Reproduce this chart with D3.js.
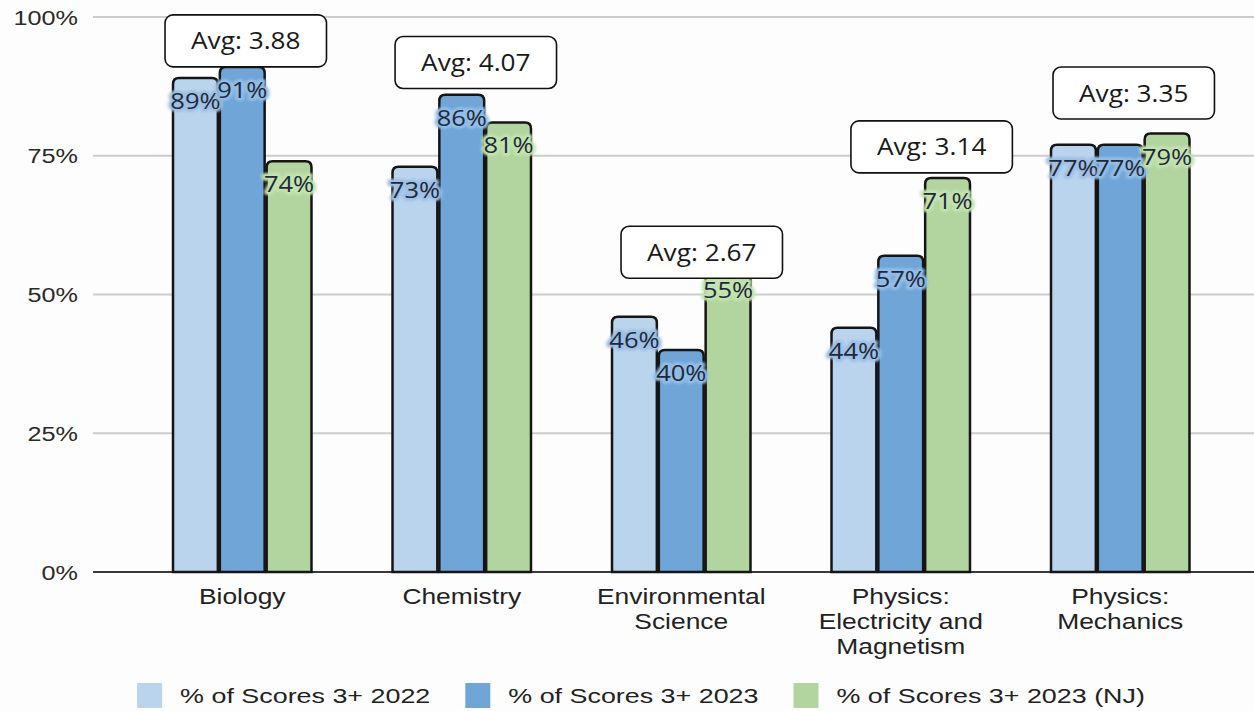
<!DOCTYPE html>
<html>
<head>
<meta charset="utf-8">
<script src="https://cdn.jsdelivr.net/npm/d3@7/dist/d3.min.js"></script>
<style>
  html, body { margin: 0; padding: 0; background: #ffffff; }
  svg { display: block; }
</style>
</head>
<body>
<svg id="chart" width="1254" height="711"></svg>
<script>
// ---- data ----
const categories = ["Biology", "Chemistry", "Environmental Science",
  "Physics: Electricity and Magnetism", "Physics: Mechanics"];
const categoryLines = [["Biology"], ["Chemistry"], ["Environmental", "Science"],
  ["Physics:", "Electricity and", "Magnetism"], ["Physics:", "Mechanics"]];
const seriesNames = ["% of Scores 3+ 2022", "% of Scores 3+ 2023", "% of Scores 3+ 2023 (NJ)"];
const scores2022 = [89, 73, 46, 44, 77];
const scores2023 = [91, 86, 40, 57, 77];
const scores2023NJ = [74, 81, 55, 71, 79];
const averages = ["3.88", "4.07", "2.67", "3.14", "3.35"];
const yTicks = [0, 25, 50, 75, 100];
// annotation placement: level on the value axis and sideways shift (fraction of group width)
const avgLabelLevel = [95.7, 91.8, 57.6, 76.6, 86.3];
const avgLabelShift = [0.025, 0.10, 0.146, 0.22, 0.096];

const seriesValues = [scores2022, scores2023, scores2023NJ];
const colors = ["#bad4ee", "#6fa5d7", "#b2d59f"];
const haloColors = ["#9fc0e4", "#93bde6", "#c3e3ad"];

// ---- layout ----
const svg = d3.select("#chart");
const W = 1254, H = 711;
svg.append("rect").attr("width", W).attr("height", H).attr("fill", "#fdfdfd");

const plotLeft = 93, plotRight = 1254;
const y = d3.scaleLinear().domain([0, 100]).range([572, 17]);
const x = d3.scaleBand().domain(categories).range([132.5, 1230])
  .paddingInner(0.36).paddingOuter(0.18);
const xs = d3.scaleBand().domain(d3.range(3)).range([0, x.bandwidth()]);

const defs = svg.append("defs");
defs.append("filter").attr("id", "soft").attr("x", "-20%").attr("y", "-40%")
  .attr("width", "140%").attr("height", "180%")
  .append("feGaussianBlur").attr("stdDeviation", 1.2);

// gridlines and tick labels
const grid = svg.append("g");
yTicks.forEach(t => {
  grid.append("line")
    .attr("x1", plotLeft).attr("x2", plotRight)
    .attr("y1", y(t)).attr("y2", y(t))
    .attr("stroke", t === 0 ? "#3a3a3a" : "#cccccc")
    .attr("stroke-width", 2);
  grid.append("text")
    .attr("transform", `translate(78,${y(t) + 7.5}) scale(1.2,1)`)
    .attr("text-anchor", "end")
    .attr("font-family", "'Liberation Sans', Arial, sans-serif")
    .attr("font-size", 21)
    .attr("fill", "#2a2a2a")
    .text(t + "%");
});

// bars with rounded top corners
function topRounded(x0, y0, w, h, r) {
  r = Math.min(r, h, w / 2);
  return `M${x0},${y0 + h}V${y0 + r}Q${x0},${y0} ${x0 + r},${y0}` +
    `H${x0 + w - r}Q${x0 + w},${y0} ${x0 + w},${y0 + r}V${y0 + h}Z`;
}

const bars = svg.append("g");
categories.forEach((c, i) => {
  seriesValues.forEach((vals, s) => {
    const x0 = x(c) + xs(s) + 1;
    const w = xs.bandwidth() - 2;
    const y0 = y(vals[i]);
    bars.append("path")
      .attr("d", topRounded(x0, y0, w, y(0) - y0, 6))
      .attr("fill", colors[s])
      .attr("stroke", "#151515")
      .attr("stroke-width", 2.5);
  });
});

// value labels with a soft coloured halo
const labels = svg.append("g");
categories.forEach((c, i) => {
  seriesValues.forEach((vals, s) => {
    const cx = x(c) + xs(s) + xs.bandwidth() / 2;
    const cy = y(vals[i]) + 31;
    const tr = `translate(${cx},${cy}) scale(1.16,1)`;
    labels.append("text")
      .attr("transform", tr)
      .attr("text-anchor", "middle")
      .attr("font-family", "'Open Sans', sans-serif")
      .attr("font-size", 22)
      .attr("stroke", haloColors[s])
      .attr("stroke-width", 6)
      .attr("stroke-linejoin", "round")
      .attr("fill", haloColors[s])
      .attr("filter", "url(#soft)")
      .text(vals[i] + "%");
    labels.append("text")
      .attr("transform", tr)
      .attr("text-anchor", "middle")
      .attr("font-family", "'Open Sans', sans-serif")
      .attr("font-size", 22)
      .attr("fill", "#1d2a3a")
      .text(vals[i] + "%");
  });
});

// average annotations
const notes = svg.append("g");
categories.forEach((c, i) => {
  const cx = x(c) + x.bandwidth() / 2 + avgLabelShift[i] * x.bandwidth();
  const cy = y(avgLabelLevel[i]);
  const g = notes.append("g");
  const sx = 1.14;
  const t = g.append("text")
    .attr("transform", `translate(${cx},${cy + 8.5}) scale(${sx},1)`)
    .attr("text-anchor", "middle")
    .attr("font-family", "'Open Sans', sans-serif")
    .attr("font-size", 23)
    .attr("fill", "#1a1a1a")
    .text("Avg: " + averages[i]);
  const tw = t.node().getBBox().width * sx;
  g.insert("rect", "text")
    .attr("x", cx - tw / 2 - 26).attr("y", cy - 26)
    .attr("width", tw + 52).attr("height", 52)
    .attr("rx", 8)
    .attr("fill", "#ffffff")
    .attr("stroke", "#111")
    .attr("stroke-width", 1.6);
});

// category labels
const cat = svg.append("g");
categories.forEach((c, i) => {
  categoryLines[i].forEach((line, k) => {
    cat.append("text")
      .attr("transform", `translate(${x(c) + x.bandwidth() / 2},${604 + k * 25}) scale(1.2,1)`)
      .attr("text-anchor", "middle")
      .attr("font-family", "'Liberation Sans', Arial, sans-serif")
      .attr("font-size", 22)
      .attr("fill", "#222")
      .text(line);
  });
});

// legend
const legend = svg.append("g");
let lx = 0;
seriesNames.forEach((name, s) => {
  const g = legend.append("g");
  g.append("rect").attr("x", lx).attr("y", 683).attr("width", 25).attr("height", 25)
    .attr("fill", colors[s]);
  const t = g.append("text")
    .attr("transform", `translate(${lx + 43},${703}) scale(1.28,1)`)
    .attr("font-family", "'Liberation Sans', Arial, sans-serif")
    .attr("font-size", 21)
    .attr("fill", "#222")
    .text(name);
  const tw = t.node().getBBox().width * 1.28;
  lx += 43 + tw + 35;
});
const legendWidth = lx - 35;
legend.attr("transform", `translate(${641 - legendWidth / 2},0)`);
</script>
</body>
</html>
